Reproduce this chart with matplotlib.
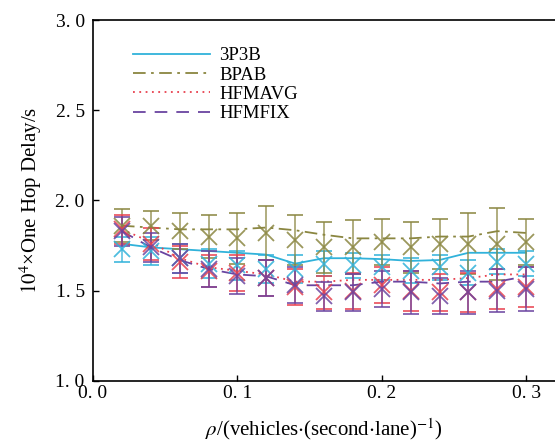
"""One hop delay versus vehicle density for four broadcast schemes."""

import matplotlib
matplotlib.use("Agg")
import matplotlib.pyplot as plt
from matplotlib.ticker import FuncFormatter

# density rho (vehicles per second per lane)
rho = [0.02, 0.04, 0.06, 0.08, 0.10, 0.12, 0.14, 0.16,
       0.18, 0.20, 0.22, 0.24, 0.26, 0.28, 0.30]

# mean curves (x 1e-4 s)
line_3p3b = [1.76, 1.74, 1.73, 1.72, 1.71, 1.70, 1.65, 1.68,
             1.68, 1.675, 1.665, 1.67, 1.71, 1.71, 1.71]
line_bpab = [1.86, 1.85, 1.84, 1.84, 1.84, 1.85, 1.835, 1.81,
             1.79, 1.79, 1.79, 1.80, 1.80, 1.83, 1.82]
line_hfmavg = [1.84, 1.77, 1.68, 1.63, 1.61, 1.59, 1.55, 1.55,
               1.56, 1.56, 1.56, 1.56, 1.57, 1.59, 1.59]
line_hfmfix = [1.83, 1.74, 1.67, 1.62, 1.59, 1.58, 1.53, 1.53,
               1.53, 1.55, 1.55, 1.54, 1.55, 1.55, 1.58]

# sampled points with error bars
pts_3p3b = [1.73, 1.72, 1.68, 1.65, 1.64, 1.62, 1.62, 1.65,
            1.64, 1.63, 1.61, 1.63, 1.60, 1.66, 1.65]
err_3p3b = [0.07, 0.08, 0.08, 0.08, 0.08, 0.08, 0.08, 0.07,
            0.07, 0.07, 0.07, 0.07, 0.07, 0.07, 0.07]
pts_bpab = [1.86, 1.86, 1.83, 1.80, 1.79, 1.82, 1.78, 1.74,
            1.74, 1.77, 1.74, 1.76, 1.76, 1.76, 1.77]
err_bpab = [0.09, 0.08, 0.10, 0.12, 0.14, 0.15, 0.14, 0.14,
            0.15, 0.13, 0.14, 0.14, 0.17, 0.20, 0.13]
pts_hfmavg = [1.84, 1.76, 1.66, 1.61, 1.60, 1.57, 1.52, 1.49,
              1.50, 1.53, 1.50, 1.49, 1.49, 1.51, 1.52]
err_hfmavg = [0.08, 0.09, 0.09, 0.09, 0.10, 0.10, 0.10, 0.09,
              0.10, 0.10, 0.11, 0.10, 0.11, 0.11, 0.11]
pts_hfmfix = [1.83, 1.74, 1.68, 1.62, 1.58, 1.57, 1.53, 1.47,
              1.49, 1.51, 1.49, 1.47, 1.49, 1.50, 1.51]
err_hfmfix = [0.08, 0.08, 0.08, 0.10, 0.10, 0.10, 0.10, 0.08,
              0.10, 0.10, 0.12, 0.10, 0.12, 0.12, 0.12]

series = [
    ("3P3B", line_3p3b, pts_3p3b, err_3p3b, "#30b2da", "-"),
    ("BPAB", line_bpab, pts_bpab, err_bpab, "#8a8640", (0, (7, 3, 1.5, 3))),
    ("HFMAVG", line_hfmavg, pts_hfmavg, err_hfmavg, "#e8404e", (0, (1, 2.5))),
    ("HFMFIX", line_hfmfix, pts_hfmfix, err_hfmfix, "#6a44a0", (0, (7, 5))),
]

plt.rcParams["font.family"] = ["Liberation Serif", "DejaVu Serif"]
plt.rcParams["mathtext.fontset"] = "stix"

fig = plt.figure(figsize=(5.55, 4.46), dpi=100)
ax = fig.add_axes([0.1676, 0.146, 0.8324, 0.809])

for name, line, pts, err, color, ls in series:
    ax.errorbar(rho, pts, yerr=err, fmt="x", color=color, ms=12, mew=1.3,
                elinewidth=1.1, capsize=5.5, capthick=1.1, alpha=0.85)
    ax.plot(rho, line, color=color, linestyle=ls, linewidth=1.3, label=name)

ax.set_xlim(0, 0.32)
ax.set_ylim(1.0, 3.0)
ax.set_xticks([0.0, 0.1, 0.2, 0.3])
ax.set_yticks([1.0, 1.5, 2.0, 2.5, 3.0])
fmt = FuncFormatter(lambda v, pos: f"{v:.1f}".replace(".", ". "))
ax.xaxis.set_major_formatter(fmt)
ax.yaxis.set_major_formatter(fmt)
ax.tick_params(direction="in", labelsize=14, length=4, width=1)
ax.tick_params(axis="x", pad=3)
ax.tick_params(axis="y", pad=6)
ax.spines["right"].set_visible(False)
for sp in ax.spines.values():
    sp.set_linewidth(1.2)

ax.set_xlabel(r"$\rho$/(vehicles$\cdot$(second$\cdot$lane)$^{-1}$)",
              fontsize=15, labelpad=10)
ax.set_ylabel(r"$10^4$×One Hop Delay/s", fontsize=15, labelpad=8)

ax.legend(loc="upper left", bbox_to_anchor=(0.087, 0.925), frameon=False,
          fontsize=13.5, handlelength=4.1, labelspacing=0.12,
          handletextpad=0.5, borderpad=0, borderaxespad=0)

fig.savefig("out.png", dpi=100)
